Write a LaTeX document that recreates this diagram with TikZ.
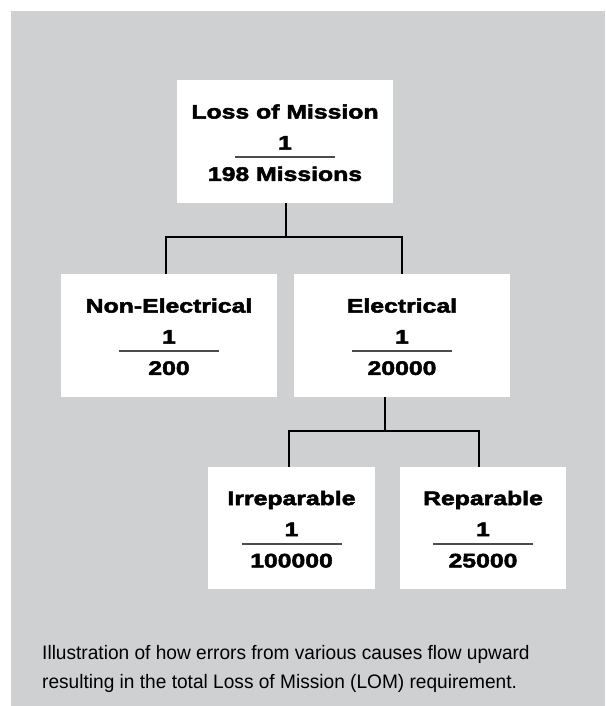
\documentclass[tikz,border=0pt]{standalone}
\usepackage{fontspec}
\usepackage{tikz}
\usepackage{xcolor}

\newfontfamily\lomhead{Liberation Sans Bold}[FakeStretch=1.27,FakeBold=2.6]
\newfontfamily\lomnote{Liberation Sans}[FakeStretch=0.98]
\definecolor{panelgrey}{RGB}{207,208,210}
\definecolor{rulegrey}{RGB}{75,75,75}

% title, then 1 over the denominator
\newcommand{\lomtext}[2]{%
  \begin{tabular}{@{}c@{}}
    \rule{0pt}{23pt}#1\\[9pt]
    1\\[-13.2pt]
    \textcolor{rulegrey}{\rule{100pt}{2pt}}\\[0.5pt]
    #2
  \end{tabular}}

\begin{document}
\begin{tikzpicture}[x=1pt, y=-1pt,
    lombox/.style={fill=white, inner sep=0pt, minimum width=216pt, minimum height=123pt,
      font=\lomhead\fontsize{19.5}{22}\selectfont},
    link/.style={draw=black, line width=1.3pt}]
        \useasboundingbox (0,0) rectangle (605,706);
        \fill[panelgrey] (11,11) rectangle (605,706);

        % Tree
        \node[lombox] (mission) at (285,141.5) {\lomtext{Loss of Mission}{198 Missions}};
        \node[lombox] (nonelec) at (169,335.5) {\lomtext{Non-Electrical}{200}};
        \node[lombox] (elec) at (402,335.5) {\lomtext{Electrical}{20000}};
        \node[lombox, minimum width=167pt, minimum height=122pt] (irrep) at (291.5,528) {\lomtext{Irreparable}{100000}};
        \node[lombox, minimum width=166pt, minimum height=122pt] (rep) at (483,528) {\lomtext{Reparable}{25000}};

        \coordinate (split1) at (286,237);
        \coordinate (split2) at (385,431);

        \draw[link] (mission.south -| split1) -- (split1);
        \draw[link] (split1) -| ([xshift=-3pt]nonelec.north);
        \draw[link] (split1) -| (elec.north);
        \draw[link] (elec.south -| split2) -- (split2);
        \draw[link] (split2) -| ([xshift=-2.5pt]irrep.north);
        \draw[link] (split2) -| ([xshift=-4pt]rep.north);

        % Caption
        \node[anchor=north west, inner sep=0pt, align=left,
          font=\lomnote\fontsize{19.5}{29}\selectfont] (note) at (42,645)
          {Illustration of how errors from various causes flow upward\\resulting in the total Loss of Mission (LOM) requirement.};
    \end{tikzpicture}
\end{document}
